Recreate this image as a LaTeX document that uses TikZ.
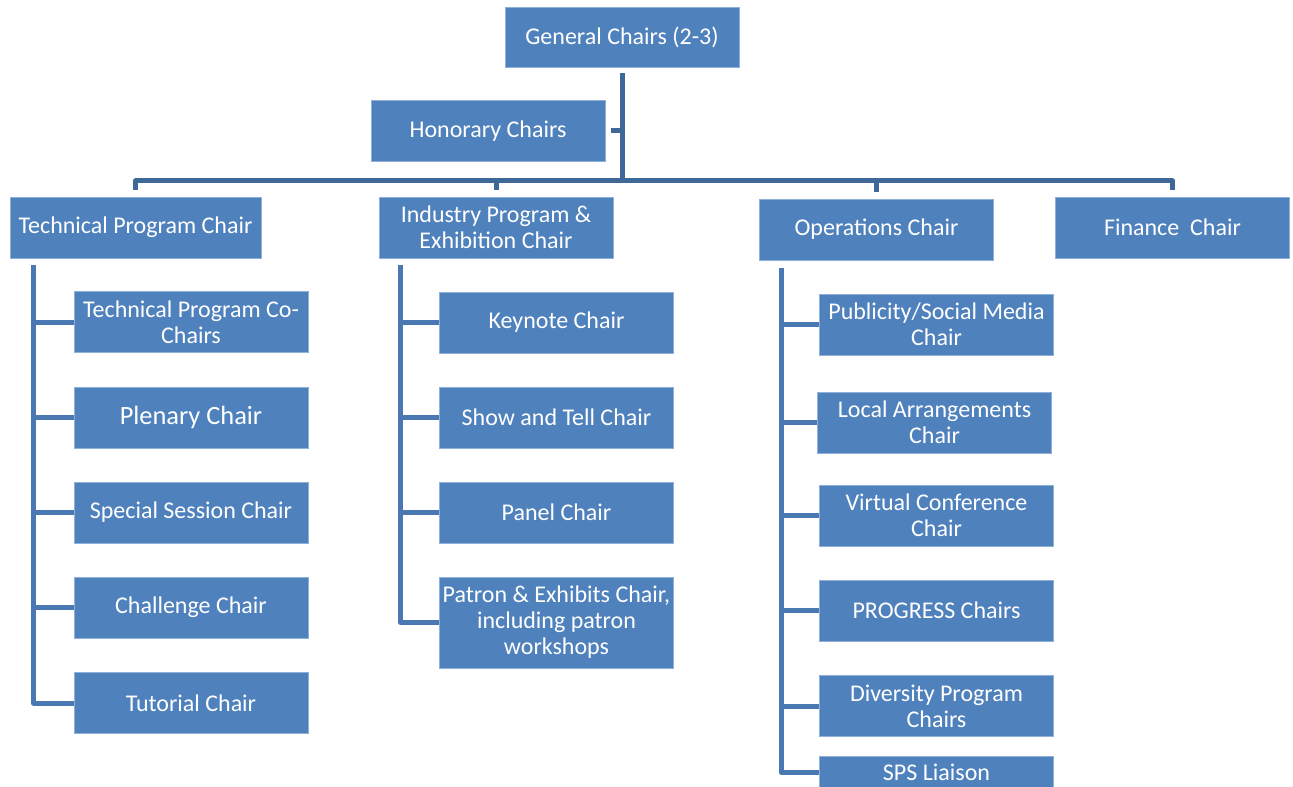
\documentclass[tikz,border=0pt]{standalone}
\usepackage{fontspec}
\setmainfont{Carlito}
\usepackage{xcolor}
\usepackage{tikz}
\usetikzlibrary{positioning}

\definecolor{boxblue}{HTML}{4F81BD}
\definecolor{boxedge}{HTML}{8FB0DA}
\definecolor{linkblue}{HTML}{3E6897}
\definecolor{spineblue}{HTML}{4A78B2}

\tikzset{
  chair/.style={draw=boxedge, line width=0.4pt, fill=boxblue, text=white,
    rectangle, align=center, inner sep=0pt, minimum width=117pt, minimum height=30.5pt,
    font=\fontsize{12}{13}\selectfont},
  conn/.style={draw=linkblue, line width=2.5pt, line join=round},
  spine/.style={draw=spineblue, line width=2.5pt, line join=round}
}

\begin{document}
\begin{tikzpicture}[x=0.5pt, y=-0.5pt]
		\useasboundingbox (0,0) rectangle (1293,786);
		\clip (0,0) rectangle (1293,786);
		
		% Top level
		\node[chair, minimum height=30pt] (gen) at (622,37) {General Chairs (2-3)};
		\node[chair] (hon) at (488,131) {Honorary Chairs};
		
		% Second level
		\node[chair, minimum width=125.5pt] (tpc) at (135.5,227.5) {Technical Program Chair};
		\node[chair] (ipc) at (496,227.5) {Industry Program \&\\Exhibition Chair};
		\node[chair] (ops) at (876.5,229.5) {Operations Chair};
		\node[chair] (fin) at (1172.5,227.5) {Finance~ Chair};
		
		% Technical program children
		\node[chair] (tc1) at (191,322) {Technical Program Co-\\Chairs};
		\node[chair, font=\fontsize{13.2}{15}\selectfont] (tc2) at (191,417.5) {Plenary Chair};
		\node[chair] (tc3) at (191,512.5) {Special Session Chair};
		\node[chair] (tc4) at (191,607.5) {Challenge Chair};
		\node[chair] (tc5) at (191,703) {Tutorial Chair};
		
		% Industry program children
		\node[chair] (ic1) at (556.5,322.5) {Keynote Chair};
		\node[chair] (ic2) at (556.5,417.5) {Show and Tell Chair};
		\node[chair] (ic3) at (556.5,512.5) {Panel Chair};
		\node[chair, minimum height=45.5pt] (ic4) at (556.5,622.5) {Patron \& Exhibits Chair,\\including patron\\workshops};
		
		% Operations children
		\node[chair] (oc1) at (936.5,324.5) {Publicity/Social Media\\Chair};
		\node[chair] (oc2) at (934.5,422.5) {Local Arrangements\\Chair};
		\node[chair] (oc3) at (936.5,515.5) {Virtual Conference\\Chair};
		\node[chair] (oc4) at (936.5,610.5) {PROGRESS Chairs};
		\node[chair] (oc5) at (936.5,706) {Diversity Program\\Chairs};
		\node[chair, minimum height=16pt] (oc6) at (936.5,772) {SPS Liaison};
		
		% Links from the general chairs
		\coordinate (hub) at (622,181);
		\draw[conn] ([yshift=-3pt]gen.south) -- (hub);
		\draw[conn] ([xshift=3pt]hon.east) -- (hon.east -| hub);
		\draw[conn] (hub) -| ([yshift=3.5pt]tpc.north);
		\draw[conn] (hub) -| ([yshift=3.5pt]ipc.north);
		\draw[conn] (hub) -| ([yshift=3.5pt]ops.north);
		\draw[conn] (hub) -| ([yshift=3.5pt]fin.north);
		
		% Spines to the sub-chairs
		\coordinate (tsp) at ([xshift=12pt, yshift=-3.5pt]tpc.south west);
		\coordinate (isp) at ([xshift=11pt, yshift=-3.5pt]ipc.south west);
		\coordinate (osp) at ([xshift=11pt, yshift=-4pt]ops.south west);
		\foreach \i in {1,...,5} \draw[spine] (tsp) |- (tc\i.west);
		\foreach \i in {1,...,4} \draw[spine] (isp) |- (ic\i.west);
		\foreach \i in {1,...,6} \draw[spine] (osp) |- (oc\i.west);
	\end{tikzpicture}
\end{document}
